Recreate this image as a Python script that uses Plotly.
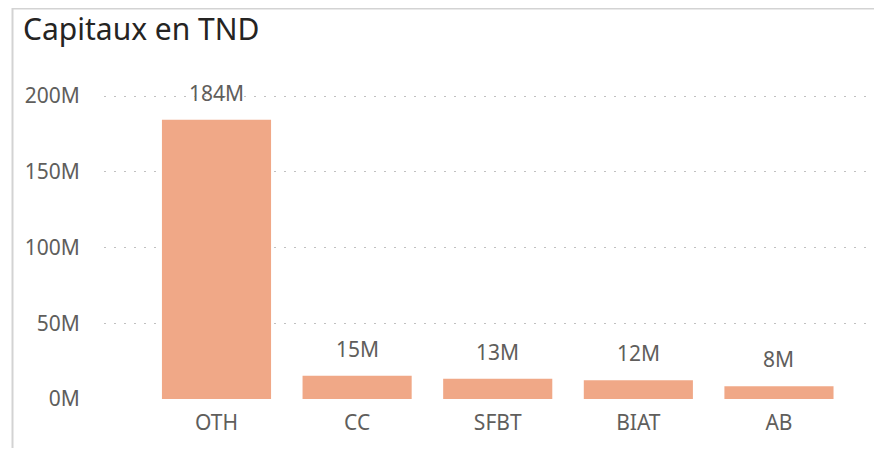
import plotly.graph_objects as go

categories = ["OTH", "CC", "SFBT", "BIAT", "AB"]
values_m = [184.4, 15.4, 13.4, 12.3, 8.4]
tick_vals = [0, 50, 100, 150, 200]
tick_text = ["0M", "50M", "100M", "150M", "200M"]

W, H = 882, 450
OFF = 8  # page body margin offset
ML, MR = 104 - OFF, 882 - 876 + OFF
MT, MB = 81 - OFF, 450 - 399 + OFF
pw, ph = W - ML - MR, H - MT - MB

def px_x(p):
    return (p - OFF - ML) / pw

def px_y(p):
    return (H - MB - (p - OFF)) / ph

label_color = "#605E5C"
font_family = "Noto Sans, Open Sans, sans-serif"

fig = go.Figure(
    go.Bar(
        x=categories,
        y=values_m,
        marker=dict(color="#F0A887", line=dict(width=0)),
        width=0.776,
        hoverinfo="skip",
    )
)

for c, v in zip(categories, values_m):
    fig.add_annotation(
        x=c, y=v, text=f"{v:.0f}M", showarrow=False,
        yanchor="bottom", yshift=11,
        font=dict(size=21, color=label_color, family=font_family),
    )

# frame lines
fig.add_shape(type="line", xref="paper", yref="paper",
              x0=px_x(12.5), x1=px_x(12.5), y0=px_y(8), y1=px_y(448),
              line=dict(color="#D3D3D3", width=2))
fig.add_shape(type="line", xref="paper", yref="paper",
              x0=px_x(12.5), x1=px_x(890), y0=px_y(8.5), y1=px_y(8.5),
              line=dict(color="#D3D3D3", width=2))

fig.update_layout(
    width=W, height=H,
    margin=dict(l=ML, r=MR, t=MT, b=MB),
    paper_bgcolor="white", plot_bgcolor="white",
    showlegend=False,
    title=dict(text="Capitaux en TND", x=(23 - OFF) / W, xanchor="left",
               y=1 - (29 - OFF) / H, yanchor="middle",
               font=dict(size=30, color="#252423", family=font_family)),
    font=dict(family=font_family, color=label_color, size=21),
)

fig.update_xaxes(
    range=[-0.80, 4.69], showgrid=False, zeroline=False, showline=False,
    ticks="outside", ticklen=5, tickcolor="rgba(0,0,0,0)",
    tickfont=dict(size=21, color=label_color),
)
fig.update_yaxes(
    range=[0, 210], tickvals=tick_vals, ticktext=tick_text,
    showgrid=True, gridcolor="#C0C0C0", gridwidth=1, griddash="2px,8px",
    zeroline=False, showline=False,
    ticks="outside", ticklen=19, tickcolor="rgba(0,0,0,0)",
    tickfont=dict(size=21, color=label_color),
)

fig.write_html("out.html")
